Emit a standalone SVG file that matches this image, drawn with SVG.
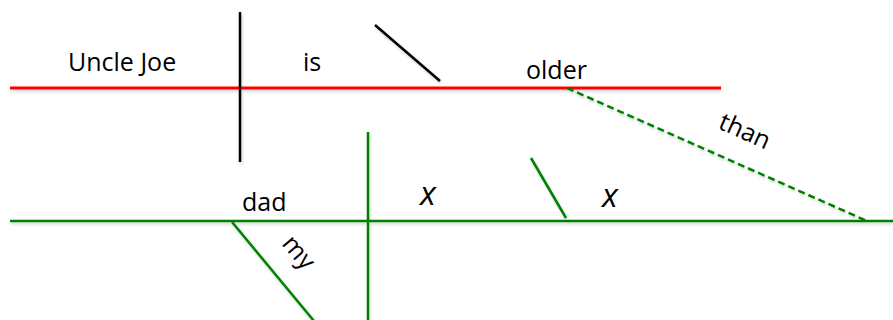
<svg xmlns="http://www.w3.org/2000/svg" width="893" height="320" viewBox="0 0 893 320">
<defs>
<filter id="sh" x="-5%" y="-50%" width="110%" height="200%">
<feDropShadow dx="1" dy="2" stdDeviation="1.5" flood-color="#000" flood-opacity="0.18"/>
</filter>
</defs>
<style>
.t{font-family:"Open Sans","Liberation Sans",sans-serif;font-size:25px;fill:#000}
.i{font-style:italic;font-size:33px}
.r{stroke:#ff0000;stroke-width:3;fill:none}
.k{stroke:#000;stroke-width:2.5;fill:none}
.g{stroke:#008000;stroke-width:2.5;fill:none}
</style>
<rect width="893" height="320" fill="#fff"/>
<g id="connectors" filter="url(#sh)">
<line class="r" x1="10" y1="88" x2="721" y2="88"/>
<line class="k" x1="240" y1="12" x2="240" y2="162"/>
<line class="k" x1="375" y1="25" x2="440" y2="81"/>
<line class="g" x1="10" y1="221" x2="893" y2="221"/>
<line class="g" x1="368" y1="132" x2="368" y2="320"/>
<line class="g" x1="531" y1="158" x2="566" y2="218"/>
<line class="g" x1="232" y1="222" x2="314" y2="321"/>
<line class="g" x1="567" y1="88" x2="867" y2="221" stroke-dasharray="7,4"/>
</g>
<g id="n-unclejoe"><text class="t" x="68" y="71">Uncle Joe</text></g>
<g id="n-is"><text class="t" x="303" y="71">is</text></g>
<g id="n-older"><text class="t" x="526" y="79">older</text></g>
<g id="n-than"><text class="t" transform="translate(717,128) rotate(24)">than</text></g>
<g id="n-dad"><text class="t" x="242" y="211">dad</text></g>
<g id="n-my"><text class="t" transform="translate(281,244) rotate(50)">my</text></g>
<g id="n-x1"><text class="t i" x="420" y="205">x</text></g>
<g id="n-x2"><text class="t i" x="602" y="207">x</text></g>
</svg>
